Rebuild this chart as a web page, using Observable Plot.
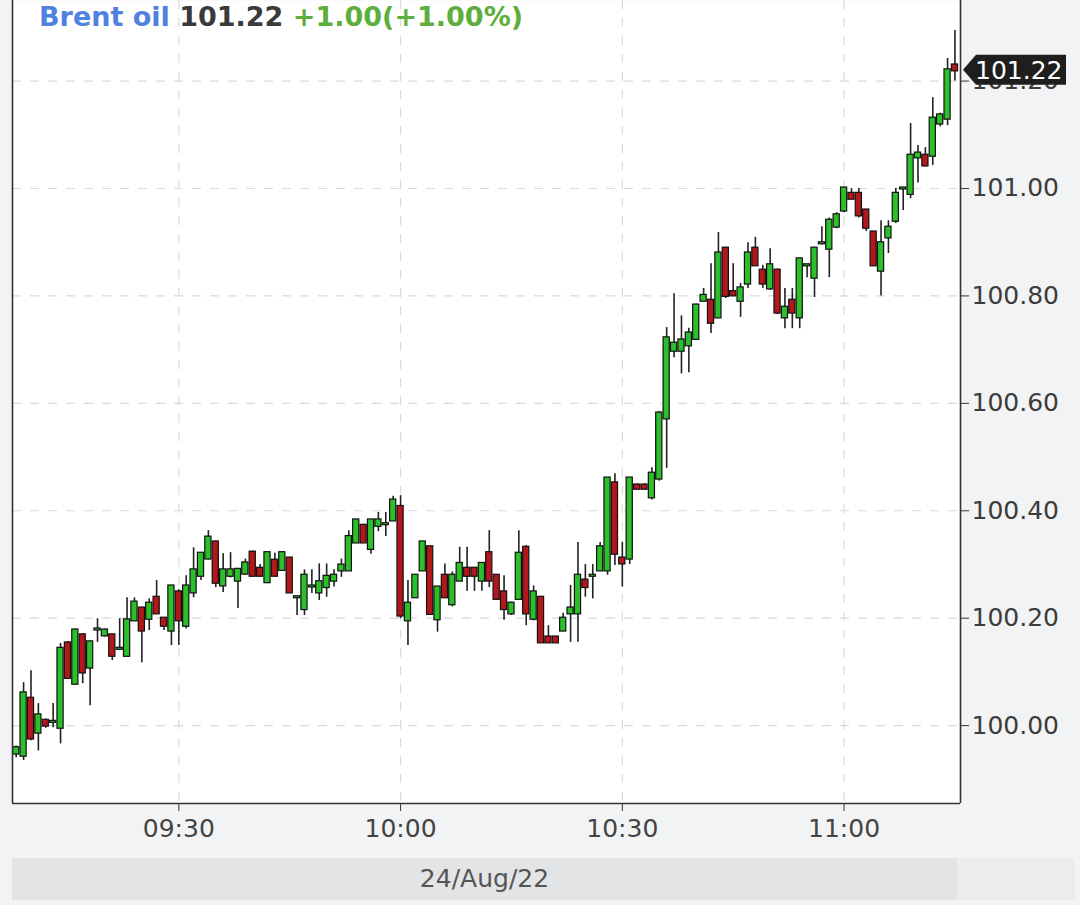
<!DOCTYPE html>
<html><head><meta charset="utf-8">
<script src="https://cdn.jsdelivr.net/npm/d3@7"></script>
<script src="https://cdn.jsdelivr.net/npm/@observablehq/plot@0.6"></script>
<style>
html,body{margin:0;padding:0;background:#f2f3f5;}
#wrap{position:relative;width:1080px;height:905px;overflow:hidden;font-family:"DejaVu Sans",sans-serif;}
#chart{position:absolute;left:0;top:0;}
#title{position:absolute;left:39px;top:0px;font-weight:bold;font-size:27px;line-height:34px;white-space:nowrap;}
#title .n{color:#4f82e0}
#title .p{color:#3a3a3a}
#title .c{color:#5eae3c}
#band{position:absolute;left:12px;top:858px;width:945px;height:42px;background:#e3e4e6;color:#555;font-size:25px;line-height:42px;text-align:center;}
#band2{position:absolute;left:957px;top:858px;width:118px;height:42px;background:#ebecee;}
</style></head>
<body><div id="wrap">
<div id="chart"></div>
<div id="title"><span class="n">Brent oil</span> <span class="p">101.22</span> <span class="c">+1.00(+1.00%)</span></div>
<div id="band">24/Aug/22</div><div id="band2"></div>
</div>
<script>
// one-minute candles starting 09:08, 24 Aug 2022 (UTC clock labels)
const startMinute = [9, 8];
const opens  = [99.948,99.944,100.050,99.987,100.009,100.007,99.996,100.153,100.078,100.168,100.108,100.179,100.168,100.168,100.143,100.130,100.196,100.218,100.199,100.238,100.199,100.177,100.248,100.186,100.248,100.279,100.311,100.341,100.261,100.279,100.270,100.283,100.322,100.292,100.267,100.307,100.290,100.311,100.239,100.217,100.259,100.248,100.258,100.270,100.289,100.289,100.341,100.372,100.329,100.372,100.375,100.382,100.407,100.196,100.239,100.289,100.332,100.198,100.279,100.226,100.270,100.292,100.292,100.270,100.321,100.279,100.248,100.209,100.236,100.331,100.199,100.238,100.164,100.164,100.177,100.209,100.209,100.270,100.279,100.289,100.289,100.451,100.311,100.311,100.447,100.447,100.425,100.460,100.572,100.698,100.698,100.708,100.720,100.791,100.791,100.760,100.888,100.807,100.791,100.823,100.888,100.847,100.814,100.847,100.760,100.791,100.760,100.857,100.834,100.898,100.888,100.929,100.959,100.990,100.990,100.959,100.918,100.847,100.909,100.940,101.000,100.990,101.058,101.061,101.061,101.121,101.130,101.229];
const highs  = [99.962,100.080,100.102,100.041,100.012,100.041,100.153,100.156,100.180,100.171,100.157,100.199,100.180,100.170,100.199,100.238,100.238,100.220,100.236,100.270,100.200,100.260,100.253,100.279,100.331,100.322,100.363,100.343,100.320,100.322,100.290,100.310,100.325,100.300,100.321,100.321,100.321,100.311,100.240,100.290,100.290,100.301,100.301,100.290,100.310,100.363,100.382,100.372,100.382,100.397,100.397,100.427,100.428,100.270,100.279,100.341,100.332,100.257,100.301,100.286,100.332,100.332,100.292,100.301,100.363,100.280,100.279,100.230,100.363,100.335,100.260,100.240,100.186,100.165,100.209,100.261,100.341,100.300,100.300,100.341,100.460,100.469,100.341,100.460,100.450,100.450,100.480,100.585,100.741,100.804,100.763,100.740,100.785,100.814,100.860,100.918,100.890,100.860,100.823,100.899,100.909,100.857,100.888,100.850,100.814,100.814,100.870,100.857,100.890,100.929,100.945,100.955,101.000,101.000,101.000,100.960,100.920,100.940,100.940,101.000,101.000,101.121,101.080,101.076,101.169,101.140,101.242,101.294];
const lows   = [99.940,99.935,99.972,99.953,99.995,99.996,99.966,100.088,100.076,100.078,100.037,100.155,100.165,100.121,100.140,100.128,100.194,100.117,100.177,100.207,100.177,100.149,100.149,100.180,100.238,100.270,100.309,100.257,100.248,100.275,100.218,100.280,100.277,100.277,100.267,100.279,100.290,100.248,100.205,100.205,100.246,100.233,100.239,100.258,100.276,100.289,100.341,100.341,100.319,100.361,100.352,100.382,100.199,100.149,100.239,100.289,100.208,100.174,100.239,100.221,100.270,100.250,100.250,100.250,100.257,100.235,100.196,100.205,100.236,100.186,100.195,100.155,100.155,100.155,100.175,100.155,100.155,100.239,100.236,100.289,100.280,100.298,100.258,100.300,100.440,100.440,100.420,100.455,100.479,100.685,100.655,100.657,100.720,100.790,100.730,100.758,100.795,100.800,100.760,100.814,100.855,100.814,100.810,100.765,100.739,100.739,100.739,100.834,100.797,100.895,100.834,100.925,100.955,100.980,100.945,100.920,100.855,100.800,100.879,100.935,100.959,100.981,101.010,101.040,101.043,101.115,101.117,101.200];
const closes = [99.958,100.060,99.976,100.019,100.000,100.007,100.143,100.089,100.177,100.099,100.155,100.179,100.177,100.130,100.143,100.196,100.229,100.177,100.227,100.209,100.186,100.259,100.196,100.259,100.289,100.320,100.350,100.266,100.289,100.289,100.290,100.302,100.279,100.279,100.321,100.279,100.321,100.248,100.239,100.279,100.259,100.267,100.277,100.279,100.298,100.351,100.382,100.341,100.382,100.382,100.375,100.419,100.205,100.227,100.279,100.341,100.208,100.257,100.239,100.279,100.301,100.279,100.279,100.301,100.270,100.236,100.217,100.227,100.320,100.209,100.248,100.155,100.155,100.155,100.199,100.218,100.279,100.258,100.279,100.332,100.460,100.320,100.302,100.460,100.441,100.441,100.469,100.581,100.721,100.711,100.717,100.730,100.782,100.800,100.750,100.879,100.800,100.801,100.814,100.879,100.857,100.823,100.857,100.769,100.778,100.769,100.868,100.857,100.888,100.898,100.940,100.950,101.000,100.981,100.950,100.927,100.857,100.898,100.927,100.990,101.000,101.061,101.065,101.043,101.130,101.136,101.220,101.220];

const xTickLabels = ["09:30", "10:00", "10:30", "11:00"];
const yTicks = [100.00, 100.20, 100.40, 100.60, 100.80, 101.00, 101.20];
const xDomainClock = ["09:07:30", "11:15:45"];
const yDomain = [99.855, 101.35];
const lastPrice = 101.22;

const day = "2022-08-24T";
const toDate = s => new Date(day + (s.length === 5 ? s + ":00" : s) + "Z");
const xTicks = xTickLabels.map(toDate);
const xDomain = xDomainClock.map(toDate);
const times = opens.map((_, i) => new Date(Date.UTC(2022, 7, 24, startMinute[0], startMinute[1] + i)));
const candles = opens.map((o, i) => ({t: times[i], open: o, high: highs[i], low: lows[i], close: closes[i]}));

const green = "#2cbf2c", red = "#b3161b";
const halfBody = 25000;

function priceTag(index, scales, values, dimensions) {
  const y = scales.y(lastPrice);
  const x0 = dimensions.width - dimensions.marginRight;
  const g = d3.create("svg:g");
  g.append("path")
    .attr("d", `M${x0 + 3},${y} L${x0 + 16},${y - 15} L${x0 + 106},${y - 15} L${x0 + 106},${y + 15} L${x0 + 16},${y + 15} Z`)
    .attr("fill", "#1e1e1e");
  g.append("text").attr("x", x0 + 15).attr("y", y).attr("dy", "0.36em")
    .attr("text-anchor", "start")
    .attr("fill", "white").attr("font-size", 25).attr("font-family", "DejaVu Sans")
    .text(d3.format(".2f")(lastPrice));
  return g.node();
}

const chart = Plot.plot({
  width: 1080, height: 855,
  marginTop: 0, marginLeft: 12, marginRight: 120, marginBottom: 52,
  style: {background: "transparent", fontFamily: "DejaVu Sans", fontSize: "25px", color: "#3c3c3c"},
  x: {type: "utc", domain: xDomain, label: null},
  y: {domain: yDomain, label: null},
  marks: [
    Plot.frame({fill: "white", stroke: null}),
    Plot.ruleX(xTicks, {x: d => d, stroke: "#dadada", strokeDasharray: "9,9", strokeWidth: 1.2}),
    Plot.ruleY(yTicks, {y: d => d, stroke: "#dadada", strokeDasharray: "9,9", strokeWidth: 1.2}),
    Plot.ruleX(candles, {x: "t", y1: "low", y2: "high", stroke: "#222", strokeWidth: 1.6}),
    Plot.rect(candles, {
      x1: d => new Date(+d.t - halfBody), x2: d => new Date(+d.t + halfBody),
      y1: "open", y2: "close",
      fill: d => d.close >= d.open ? green : red,
      stroke: "#111", strokeWidth: 1.2, insetTop: -1, insetBottom: -1
    }),
    Plot.axisX(xTicks, {anchor: "bottom", tickSize: 8, tickPadding: 8, tickFormat: d3.utcFormat("%H:%M"), stroke: "#333", fill: "#444"}),
    Plot.axisY(yTicks, {anchor: "right", tickSize: 8, tickPadding: 3, tickFormat: d3.format(".2f"), stroke: "#333", fill: "#3c3c3c"}),
    Plot.ruleY([yDomain[0]], {stroke: "#333", strokeWidth: 1.6}),
    Plot.ruleX(xDomain, {x: d => d, stroke: "#333", strokeWidth: 1.6}),
    priceTag
  ]
});
document.getElementById("chart").appendChild(chart);
</script>
</body></html>
